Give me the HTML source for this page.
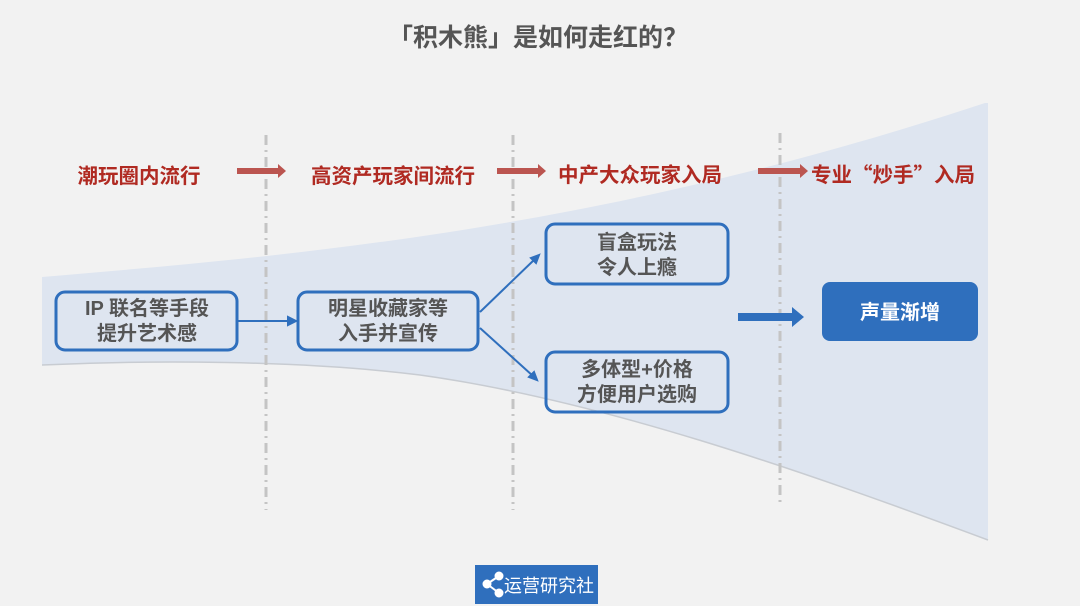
<!DOCTYPE html>
<html><head><meta charset="utf-8"><style>
body{margin:0;width:1080px;height:606px;background:#f2f2f2;overflow:hidden;font-family:"Liberation Sans","Noto Sans CJK SC",sans-serif;}
</style></head><body>
<svg width="1080" height="606" xmlns="http://www.w3.org/2000/svg" style="position:absolute;left:0;top:0">
<rect width="1080" height="606" fill="#f2f2f2"/>
<path d="M42,277 C300,255 600,230 985,103 L988,103 L988,540 C800,470 600,400 420,375 C300,360 150,360 42,365 Z" fill="#dee5f0"/>
<path d="M42,365 C150,360 300,360 420,375 C600,400 800,470 988,540" fill="none" stroke="#c8ccd2" stroke-width="1.5"/>
<g stroke="#c4c4c4" stroke-width="3" stroke-dasharray="10,5,2,5">
<line x1="266" y1="135" x2="266" y2="510"/>
<line x1="513" y1="135" x2="513" y2="510"/>
<line x1="780" y1="133" x2="780" y2="505"/>
</g>
<text x="538" y="46" text-anchor="middle" font-size="25" font-weight="bold" fill="#555">「积木熊」是如何走红的<tspan font-family="Noto Sans CJK SC">？</tspan></text>
<g font-size="20.5" font-weight="bold" fill="#b02a22" text-anchor="middle">
<text x="139" y="183">潮玩圈内流行</text>
<text x="393" y="183">高资产玩家间流行</text>
<text x="640" y="182">中产大众玩家入局</text>
<text x="893" y="182" font-family="Noto Sans CJK SC, sans-serif">专业“炒手”入局</text>
</g>
<g fill="#bb5550">
<path d="M237,168 H278 V164 L286,171 L278,178 V174 H237Z"/>
<path d="M497,168 H538 V164 L546,171 L538,178 V174 H497Z"/>
<path d="M758,168 H800 V164 L808,171 L800,178 V174 H758Z"/>
</g>
<g fill="none" stroke="#2f6fbd" stroke-width="3">
<rect x="56" y="292" width="181" height="58" rx="9"/>
<rect x="298" y="292" width="180" height="58" rx="9"/>
<rect x="546" y="224" width="182" height="60" rx="9"/>
<rect x="546" y="352" width="182" height="60" rx="9"/>
</g>
<g stroke="#2f6fbd" stroke-width="2" fill="#2f6fbd">
<line x1="238" y1="321" x2="290" y2="321"/><path d="M296,321 L288,317 L288,325Z"/>
<line x1="480" y1="312" x2="535" y2="259"/><path d="M539,255 L531,258 L536,263Z"/>
<line x1="480" y1="328" x2="533" y2="376"/><path d="M537,380 L534,372 L529,377Z"/>
</g>
<path d="M738,313 H792 V307 L804,317 L792,327 V321 H738Z" fill="#2f6fbd"/>
<rect x="822" y="282" width="156" height="59" rx="8" fill="#2f6fbd"/>
<g font-size="20" font-weight="bold" fill="#555" text-anchor="middle">
<text x="147" y="315">IP 联名等手段</text>
<text x="147" y="340">提升艺术感</text>
<text x="388" y="315">明星收藏家等</text>
<text x="388" y="340">入手并宣传</text>
<text x="637" y="249">盲盒玩法</text>
<text x="637" y="274">令人上瘾</text>
<text x="637" y="376">多体型+价格</text>
<text x="637" y="401">方便用户选购</text>
<text x="900" y="319" fill="#fff">声量渐增</text>
</g>
<rect x="475" y="565" width="123" height="39" fill="#2f6fbd"/>
<g fill="#fff" stroke="#fff" stroke-width="2">
<line x1="487" y1="584" x2="499" y2="576"/><line x1="487" y1="584" x2="499" y2="593"/>
<circle cx="487" cy="584" r="3.5"/><circle cx="499" cy="576" r="3.5"/><circle cx="499" cy="593" r="3.5"/>
</g>
<text x="549" y="592" text-anchor="middle" font-size="18" fill="#fff">运营研究社</text>
</svg>
</body></html>
